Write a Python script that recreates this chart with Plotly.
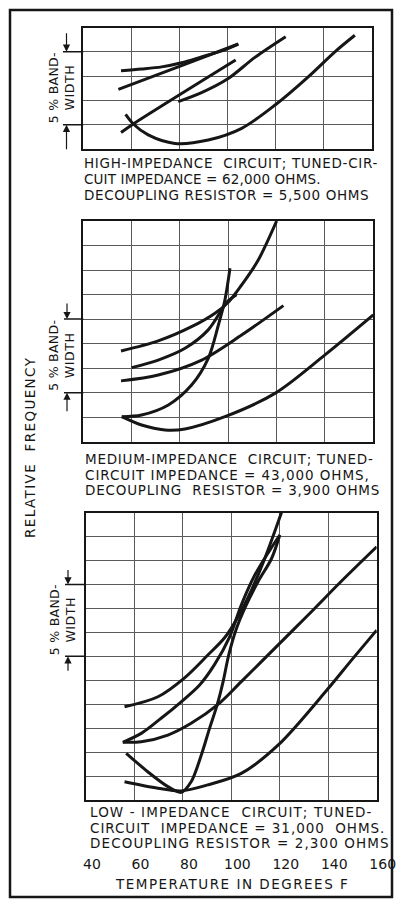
import plotly.graph_objects as go

W, H = 397, 899
INK = "#161616"
GRID = "#5a5a5a"
FONT = "DejaVu Sans"

# ---------------- data ----------------
# x: temperature in degrees F ; y: relative frequency in grid divisions
# (3 divisions = 5 % band-width)
temp_ticks = [40, 60, 80, 100, 120, 140, 160]
temp_tick_text = ["40", "60", "80", "100", "120", "140", "160"]

# High-impedance circuit (5 divisions tall)
high_a_x = [55.7, 64.3, 72.6, 80.9, 89.2, 97.6, 104.5]
high_a_y = [3.22, 3.29, 3.38, 3.55, 3.79, 4.04, 4.32]
high_b_x = [54.6, 79.5, 104.5]
high_b_y = [2.45, 3.38, 4.32]
high_c_x = [55.7, 60.8, 103.4]
high_c_y = [0.68, 1.03, 3.66]
high_d_x = [79.5, 89.2, 100.3, 111.4, 124.2]
high_d_y = [1.95, 2.32, 2.90, 3.77, 4.62]
high_e_x = [57.6, 60.8, 67.0, 78.1, 92.0, 105.9, 119.8, 133.6, 144.7, 153.0]
high_e_y = [1.42, 1.03, 0.58, 0.23, 0.37, 0.85, 1.81, 2.97, 4.00, 4.68]

# Medium-impedance circuit (9 divisions tall)
med_a_x = [55.6, 71.0, 84.8, 94.5, 100.0, 105.5, 112.4, 120.0]
med_a_y = [3.70, 4.11, 4.69, 5.24, 5.69, 6.39, 7.41, 9.00]
med_b_x = [60.0, 71.0, 82.1, 91.7, 97.2, 99.3, 103.4]
med_b_y = [3.02, 3.33, 3.81, 4.56, 5.37, 5.69, 5.99]
med_c_x = [55.6, 71.0, 89.0, 105.5, 122.8]
med_c_y = [2.48, 2.72, 3.33, 4.35, 5.55]
med_d_x = [55.9, 64.1, 75.2, 84.8, 91.7, 95.9, 98.6, 100.7]
med_d_y = [1.02, 1.09, 1.50, 2.31, 3.40, 4.76, 5.78, 7.07]
med_e_x = [55.9, 64.1, 73.8, 82.1, 98.6, 119.3, 140.0, 160.0]
med_e_y = [1.02, 0.68, 0.48, 0.52, 1.02, 1.97, 3.54, 5.17]

# Low-impedance circuit (12 divisions tall)
low_a_x = [55.9, 69.7, 80.7, 90.3, 97.2, 102.8, 108.3, 113.8, 120.7]
low_a_y = [3.89, 4.31, 5.10, 6.05, 6.77, 7.65, 8.76, 10.08, 12.0]
low_b_x = [55.2, 62.8, 71.0, 79.3, 86.9, 93.1, 99.3, 104.1, 109.7, 115.9, 120.0]
low_b_y = [2.41, 2.78, 3.41, 4.10, 4.80, 5.66, 6.81, 8.14, 9.39, 10.43, 11.06]
low_c_x = [55.2, 62.8, 73.8, 83.4, 94.5, 104.1, 117.9, 131.7, 145.5, 160.0]
low_c_y = [2.41, 2.43, 2.71, 3.20, 3.99, 4.94, 6.33, 7.72, 9.14, 10.57]
low_d_x = [56.6, 65.5, 73.8, 79.3, 83.4, 87.6, 91.0, 94.2, 96.6, 98.9, 102.1, 105.5, 111.0, 116.6, 120.0]
low_d_y = [1.95, 1.18, 0.56, 0.32, 0.76, 1.88, 2.99, 3.99, 4.94, 6.05, 7.16, 8.00, 9.11, 10.08, 11.06]
low_e_x = [55.9, 69.7, 79.3, 90.3, 104.1, 119.6, 139.7, 149.7, 160.0]
low_e_y = [0.76, 0.49, 0.38, 0.63, 1.11, 2.32, 4.62, 5.85, 7.09]

high_caption = ["HIGH-IMPEDANCE  CIRCUIT; TUNED-CIR-",
                "CUIT IMPEDANCE = 62,000 OHMS.",
                "DECOUPLING RESISTOR = 5,500 OHMS"]
med_caption = ["MEDIUM-IMPEDANCE  CIRCUIT; TUNED-",
               "CIRCUIT IMPEDANCE = 43,000 OHMS,",
               "DECOUPLING  RESISTOR = 3,900 OHMS"]
low_caption = ["LOW - IMPEDANCE  CIRCUIT; TUNED-",
               "CIRCUIT  IMPEDANCE = 31,000  OHMS.",
               "DECOUPLING RESISTOR = 2,300 OHMS"]

# ---------------- layout helpers ----------------
def fx(p):
    return p / W

def fy(p):
    return 1 - p / H

def spaced(s, px):
    s = s.replace("  ", "\u00a0 ")
    return f'<span style="letter-spacing:{px}px">{s}</span>'

panels = [
    dict(xdom=(83.3, 371.7), ydom=(27.5, 149.0), rows=5, band=(1, 4),
         series=[(high_a_x, high_a_y), (high_b_x, high_b_y), (high_c_x, high_c_y),
                 (high_d_x, high_d_y), (high_e_x, high_e_y)],
         caption=high_caption, cap_x=82, cap_y=[163, 179, 195], cap_ls=[0.7, 0.15, 0.65],
         label_x=61, arrow_x=66.5, tick_x0=63, arr_up=20, arr_dn=26),
    dict(xdom=(83.3, 373.3), ydom=(221.0, 441.7), rows=9, band=(2, 5),
         series=[(med_a_x, med_a_y), (med_b_x, med_b_y), (med_c_x, med_c_y),
                 (med_d_x, med_d_y), (med_e_x, med_e_y)],
         caption=med_caption, cap_x=83, cap_y=[459, 474.5, 490], cap_ls=[0.75, 0.95, 0.8],
         label_x=62, arrow_x=67, tick_x0=64, arr_up=17, arr_dn=20),
    dict(xdom=(86.0, 376.7), ydom=(512.5, 800.0), rows=12, band=(6, 9),
         series=[(low_a_x, low_a_y), (low_b_x, low_b_y), (low_c_x, low_c_y),
                 (low_d_x, low_d_y), (low_e_x, low_e_y)],
         caption=low_caption, cap_x=88, cap_y=[812, 827.5, 843], cap_ls=[1.1, 0.95, 1.1],
         label_x=62, arrow_x=68, tick_x0=65, arr_up=16, arr_dn=16),
]

fig = go.Figure()
annotations = []
shapes = []

for i, p in enumerate(panels, start=1):
    sfx = "" if i == 1 else str(i)
    xa, ya = "x" + sfx, "y" + sfx
    for xs, ys in p["series"]:
        fig.add_trace(go.Scatter(
            x=xs, y=ys, mode="lines", xaxis=xa, yaxis=ya,
            line=dict(color=INK, width=3, shape="spline", smoothing=0.9),
            hoverinfo="skip", showlegend=False))

    last = (i == len(panels))
    xaxis = dict(
        domain=[fx(p["xdom"][0]), fx(p["xdom"][1])], anchor=ya,
        range=[40, 160], tickmode="array", tickvals=temp_ticks,
        ticktext=temp_tick_text, showgrid=True, gridcolor=GRID, gridwidth=1,
        showline=True, mirror=True, linecolor=INK, linewidth=2,
        zeroline=False, ticks="", showticklabels=last, fixedrange=True,
        automargin=False,
    )
    if last:
        xaxis.update(tickfont=dict(family=FONT, size=14, color=INK),
                     ticklabelstandoff=50, ticklabelshift=6,
                     ticklabeloverflow="allow")
    yaxis = dict(
        domain=[fy(p["ydom"][1]), fy(p["ydom"][0])], anchor=xa,
        range=[0, p["rows"]], dtick=1, showgrid=True, gridcolor=GRID, gridwidth=1,
        showline=True, mirror=True, linecolor=INK, linewidth=2,
        zeroline=False, ticks="", showticklabels=False, fixedrange=True,
        automargin=False,
    )
    fig.update_layout(**{"xaxis" + sfx: xaxis, "yaxis" + sfx: yaxis})

    lo, hi = p["band"]
    # band-width label
    annotations.append(dict(
        x=fx(p["label_x"]), xref="paper", y=(lo + hi) / 2, yref=ya,
        xanchor="center", yanchor="middle",
        text=spaced("5 % BAND-", 0.3) + "<br>" + spaced("WIDTH", 0.6),
        textangle=-90, showarrow=False, align="center",
        font=dict(family=FONT, size=12.5, color=INK)))
    # short horizontal markers at band limits
    for yv in (lo, hi):
        shapes.append(dict(type="line", xref="paper", yref=ya,
                           x0=fx(p["tick_x0"]), x1=fx(p["xdom"][0]), y0=yv, y1=yv,
                           line=dict(color=INK, width=1.5)))
    # arrows
    annotations.append(dict(x=fx(p["arrow_x"]), xref="paper", y=hi, yref=ya,
                            ax=0, ay=-p["arr_up"], showarrow=True, arrowhead=2,
                            arrowsize=1.2, arrowwidth=1.2, arrowcolor=INK, text=""))
    annotations.append(dict(x=fx(p["arrow_x"]), xref="paper", y=lo, yref=ya,
                            ax=0, ay=p["arr_dn"], showarrow=True, arrowhead=2,
                            arrowsize=1.2, arrowwidth=1.2, arrowcolor=INK, text=""))
    # caption
    for line, cy, ls in zip(p["caption"], p["cap_y"], p["cap_ls"]):
        annotations.append(dict(
            x=fx(p["cap_x"]), xref="paper", y=fy(cy), yref="paper",
            xanchor="left", yanchor="middle", showarrow=False,
            text=spaced(line, ls), font=dict(family=FONT, size=13.5, color=INK)))

# axis titles
annotations.append(dict(
    x=fx(30), xref="paper", y=fy(448), yref="paper", textangle=-90,
    xanchor="center", yanchor="middle",
    showarrow=False, text=spaced("RELATIVE  FREQUENCY", 1.4),
    font=dict(family=FONT, size=13.5, color=INK)))
annotations.append(dict(
    x=fx(232), xref="paper", y=fy(884), yref="paper", showarrow=False,
    xanchor="center", yanchor="middle",
    text=spaced("TEMPERATURE IN DEGREES F", 1.5),
    font=dict(family=FONT, size=13.5, color=INK)))

# outer frame
shapes.append(dict(type="rect", xref="paper", yref="paper",
                   x0=fx(10), x1=fx(392), y0=fy(897), y1=fy(10),
                   line=dict(color=INK, width=2.5)))

fig.update_layout(
    width=W, height=H, margin=dict(l=0, r=0, t=0, b=0, autoexpand=False),
    paper_bgcolor="white", plot_bgcolor="white",
    annotations=annotations, shapes=shapes, showlegend=False,
    font=dict(family=FONT, color=INK),
)

fig.write_html("out.html",
               config={"displayModeBar": False},
               post_script="document.body.style.margin='0px';"
                           "document.body.style.overflow='hidden';")
